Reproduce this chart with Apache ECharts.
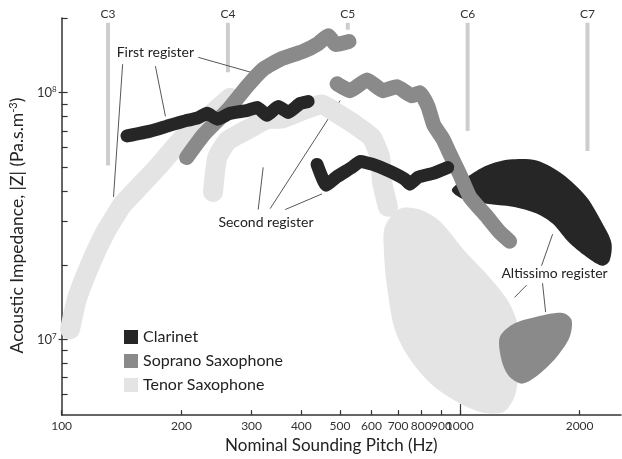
<!DOCTYPE html>
<html><head><meta charset="utf-8">
<script src="https://cdn.jsdelivr.net/npm/echarts@6/dist/echarts.min.js"></script>
<style>html,body{margin:0;padding:0;background:#fff}#c{width:622px;height:459px}</style>
</head><body><div id="c"></div>
<script>
// ---------- DATA (pitch in Hz, impedance |Z| in units of 1e6 Pa.s.m^-3) ----------
const tenorFirstHz  = [105,109,117,128,142,158,174,202,236,265];
const tenorFirstZ   = [11.0,14.4,19.5,26.7,35.1,42.2,49.8,65.6,81.0,95.5];
const tenorSecondHz = [240,246,261,298,328,360,414,451,492,552,602,631,638,660];
const tenorSecondZ  = [39.6,54.6,63.8,71.9,78.1,78.8,86.3,89.6,82.5,73.2,65.6,54.6,43.4,34.5];
const tenorAltHz    = [649,708,794,891,1029,1189,1319,1398,1414,1381,1296,1155,1000,856,749,687,656,645];
const tenorAltZ     = [28.7,33.9,33.6,30.1,22.8,17.8,14.4,11.5,8.71,6.04,5.12,5.03,5.51,6.5,8.33,10.96,16.6,22.8];

const sopFirstHz  = [206,227,261,293,321,354,404,441,467,489,527];
const sopFirstZ   = [54.6,67.4,84.8,106.6,124.6,136.6,147,158.2,170.3,156.8,161.2];
const sopSecondHz = [492,530,585,641,695,758,794,832,861,907,949,1000,1060,1169,1260,1334];
const sopSecondZ  = [108.6,101.9,112.7,101.9,105.7,97.3,100,88,73.9,65,55.6,46.7,37.8,31.5,27.2,25.0];
const sopAltHz    = [1260,1358,1560,1812,1909,1887,1751,1587,1439,1334,1275];
const sopAltZ     = [10.2,11.5,12.35,12.8,12.0,10.2,8.48,7.25,6.62,7.06,8.18];

const clarFirstHz  = [146,167,184,207,219,232,246,265,293,310,328,350,371,397,416];
const clarFirstZ   = [66.8,69.9,73.2,77.3,78.8,82.5,78.1,82.5,84.8,87.2,81.0,88.0,83.2,90.4,92.1];
const clarSecondHz = [438,462,489,536,562,605,668,728,749,785,856,933];
const clarSecondZ  = [51.2,42.2,45.4,49.8,52.6,51.2,48.0,44.6,42.6,45.4,47.1,49.8];
const clarAltHz    = [955,1041,1169,1334,1560,1812,2081,2283,2404,2377,2283,2117,1887,1711,1560,1358,1169,1017];
const clarAltZ     = [40.3,45.4,50.7,53.6,53.1,46.7,37.8,29.5,24.6,20.8,19.9,21.2,24.6,29.5,32.4,34.5,35.5,37.1];

const octNames   = ['C3','C4','C5','C6','C7'];
const octHz      = [130.8,261.6,523.3,1046.5,2093];
const octTopZ    = [192,192,192,192,192];
const octBottomZ = [50.7,121,180,70,58];

// leader lines: [Hz1, Z1, Hz2, Z2]
const leaderLines = [
  [142.3,130.5,135.0,37.8],[172.0,128.1,182.3,80.2],[220.4,139.1,309.9,119.0],
  [320.8,49.8,311.7,33.6],[500.4,92.9,334.1,33.9],[451.0,38.9,364.4,33.6],
  [1711,26.7,1605,19.9],[1472,16.6,1373,14.8],[1614,16.9,1643,12.9]
];
const annotText = ['First register','Second register','Altissimo register'];
const annotHz   = [172,326,1730];
const annotZ    = [145.7,29.8,18.5];

const legendNames = ['Clarinet','Soprano Saxophone','Tenor Saxophone'];
const xTickHz     = [100,200,300,400,500,600,700,800,900,1000,2000];
const xTickLabels = ['100','200','300','400','500','600','700','800','900','1000','2000'];
const yTickZ      = [6e6,7e6,8e6,9e6,1e7,2e7,3e7,4e7,5e7,6e7,7e7,8e7,9e7,1e8,2e8];
const yLabelExp   = [7,8];

// ---------- BUILD ----------
const FONT = 'Lato';
const C_CLAR = '#262626', C_SOP = '#8a8a8a', C_TEN = '#e4e4e4', C_OCT = '#cdcdcd';
const L = Math.log10;
const pts = (hz, z) => hz.map((h, i) => [L(h), L(z[i] * 1e6)]);

function lineSeries(name, hz, z, color, w) {
  return {type:'line', name, data: pts(hz, z), symbol:'none', smooth:0.15,
    lineStyle:{color, width:w, cap:'round', join:'round'}, itemStyle:{color},
    silent:true, clip:true};
}
function polySeries(name, hz, z, color) {
  const d = pts(hz, z);
  return {type:'custom', name, data: d, itemStyle:{color}, silent:true,
    encode:{x:0, y:1},
    renderItem: (params, api) => {
      if (params.dataIndex !== 0) return null;
      return {type:'polygon', shape:{points: d.map(p => api.coord(p)), smooth:0.3},
        style:{fill: color}};
    }};
}

const octData = octHz.map((h, i) => [L(h), L(octTopZ[i] * 1e6), L(octBottomZ[i] * 1e6)]);
const leaderData = leaderLines.map(r => [L(r[0]), L(r[1] * 1e6), L(r[2]), L(r[3] * 1e6)]);
const annotData = annotHz.map((h, i) => [L(h), L(annotZ[i] * 1e6)]);

const chart = echarts.init(document.getElementById('c'));
chart.setOption({
  animation:false,
  backgroundColor:'#fff',
  textStyle:{fontFamily:FONT},
  grid:{left:61, top:18, right:1, bottom:37, containLabel:false},
  legend:{
    orient:'vertical', left:119, top:324, icon:'rect', itemWidth:14, itemHeight:14, itemGap:8,
    selectedMode:false,
    textStyle:{fontFamily:FONT, fontSize:16, color:'#222'},
    data:[
      {name:legendNames[0], itemStyle:{color:C_CLAR}},
      {name:legendNames[1], itemStyle:{color:C_SOP}},
      {name:legendNames[2], itemStyle:{color:C_TEN}}
    ]
  },
  xAxis:[{
    type:'value', min:2, max:3.405, position:'bottom',
    axisLine:{show:true, onZero:false, lineStyle:{color:'#333', width:1.5}},
    axisTick:{show:true, inside:true, length:5, customValues:xTickHz.map(L), lineStyle:{color:'#333', width:1.2}},
    axisLabel:{customValues:xTickHz.map(L), fontFamily:FONT, fontSize:12, color:'#333', margin:5,
      formatter:(v) => { let k = 0, best = 1e9; xTickHz.forEach((h, i) => { const d = Math.abs(L(h) - v); if (d < best) { best = d; k = i; } }); return xTickLabels[k]; }},
    splitLine:{show:false},
    name:'Nominal Sounding Pitch (Hz)', nameLocation:'middle', nameGap:19,
    nameTextStyle:{fontFamily:FONT, fontSize:17, color:'#222', padding:[0,20,0,0]}
  },{
    type:'value', min:2, max:3.405, position:'bottom',
    axisLine:{show:false}, axisLabel:{show:false}, splitLine:{show:false},
    axisTick:{show:true, inside:true, length:11, customValues:[L(1000)], lineStyle:{color:'#333', width:1.2}}
  }],
  yAxis:[{
    type:'value', min:6.6932, max:8.3028,
    axisLine:{show:true, onZero:false, lineStyle:{color:'#333', width:1.5}},
    axisTick:{show:true, inside:true, length:6, customValues:yTickZ.map(L), lineStyle:{color:'#333', width:1.2}},
    axisLabel:{customValues:yLabelExp, margin:5, color:'#333', fontFamily:FONT, fontSize:13,
      formatter:(v) => '10{s|' + Math.round(v) + '}',
      rich:{s:{fontSize:8, fontFamily:FONT, color:'#333', verticalAlign:'top', padding:[0,0,6,0]}}},
    splitLine:{show:false},
    name:'Acoustic Impedance, |Z| (Pa.s.m{s|-3})', nameLocation:'middle', nameGap:23, nameRotate:90,
    nameTextStyle:{fontFamily:FONT, fontSize:17.5, color:'#222', padding:[0,18,0,0],
      rich:{s:{fontSize:11, fontFamily:FONT, color:'#222', verticalAlign:'top', padding:[0,0,7,0]}}}
  },{
    type:'value', min:6.6932, max:8.3028, position:'left',
    axisLine:{show:false}, axisLabel:{show:false}, splitLine:{show:false},
    axisTick:{show:true, inside:false, length:3, customValues:yLabelExp, lineStyle:{color:'#333', width:1.2}}
  }],
  series:[
    {type:'custom', name:'octaves', data:octData, silent:true, encode:{x:0, y:[1,2]},
      renderItem:(params, api) => {
        const t = api.coord([api.value(0), api.value(1)]);
        const b = api.coord([api.value(0), api.value(2)]);
        return {type:'group', children:[
          {type:'rect', shape:{x:t[0]-2, y:t[1], width:4, height:b[1]-t[1]}, style:{fill:C_OCT}},
          {type:'text', style:{x:t[0], y:t[1]-9, text:octNames[params.dataIndex], textAlign:'center',
            textVerticalAlign:'middle', fontFamily:FONT, fontSize:12, fill:'#333'}}
        ]};
      }},
    polySeries(legendNames[2], tenorAltHz, tenorAltZ, C_TEN),
    lineSeries(legendNames[2], tenorFirstHz, tenorFirstZ, C_TEN, 20),
    lineSeries(legendNames[2], tenorSecondHz, tenorSecondZ, C_TEN, 20),
    lineSeries(legendNames[1], sopFirstHz, sopFirstZ, C_SOP, 15),
    lineSeries(legendNames[1], sopSecondHz, sopSecondZ, C_SOP, 15),
    polySeries(legendNames[1], sopAltHz, sopAltZ, C_SOP),
    lineSeries(legendNames[0], clarFirstHz, clarFirstZ, C_CLAR, 13),
    lineSeries(legendNames[0], clarSecondHz, clarSecondZ, C_CLAR, 13),
    polySeries(legendNames[0], clarAltHz, clarAltZ, C_CLAR),
    {type:'custom', name:'leaders', data:leaderData, silent:true, encode:{x:[0,2], y:[1,3]},
      renderItem:(params, api) => {
        const a = api.coord([api.value(0), api.value(1)]);
        const b = api.coord([api.value(2), api.value(3)]);
        return {type:'line', shape:{x1:a[0], y1:a[1], x2:b[0], y2:b[1]}, style:{stroke:'#444', lineWidth:0.9}};
      }},
    {type:'custom', name:'annotations', data:annotData, silent:true, encode:{x:0, y:1},
      renderItem:(params, api) => {
        const p = api.coord([api.value(0), api.value(1)]);
        return {type:'text', style:{x:p[0], y:p[1], text:annotText[params.dataIndex], textAlign:'center',
          textVerticalAlign:'middle', fontFamily:FONT, fontSize:14, fill:'#222'}};
      }}
  ]
});
</script></body></html>
